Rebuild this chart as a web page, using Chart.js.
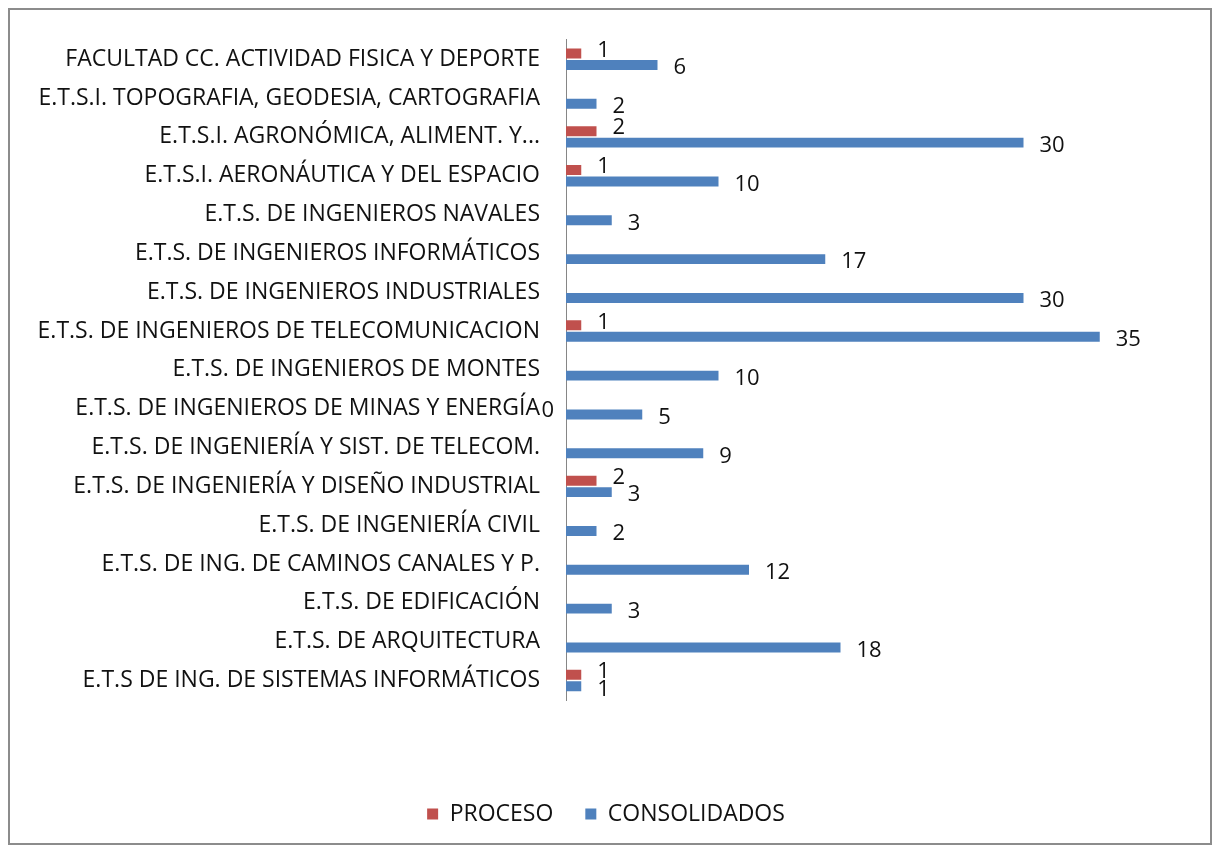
<!DOCTYPE html>
<html>
<head>
<meta charset="utf-8">
<script src="https://cdn.jsdelivr.net/npm/chart.js@4/dist/chart.umd.min.js"></script>
<style>
  body { margin: 0; background: #fff; }
  #frame { position: absolute; left: 8px; top: 8px; width: 1200px; height: 833px; border: 2px solid #8c8c8c; }
  #chart { position: absolute; left: 0; top: 0; }
</style>
</head>
<body>
<div id="frame"></div>
<canvas id="chart" width="1217" height="848"></canvas>
<script>
// categories, top to bottom as they appear
var schools = [
    "FACULTAD CC. ACTIVIDAD FISICA Y DEPORTE",
    "E.T.S.I. TOPOGRAFIA, GEODESIA, CARTOGRAFIA",
    "E.T.S.I. AGRONÓMICA, ALIMENT. Y...",
    "E.T.S.I. AERONÁUTICA Y DEL ESPACIO",
    "E.T.S. DE INGENIEROS NAVALES",
    "E.T.S. DE INGENIEROS INFORMÁTICOS",
    "E.T.S. DE INGENIEROS INDUSTRIALES",
    "E.T.S. DE INGENIEROS DE TELECOMUNICACION",
    "E.T.S. DE INGENIEROS DE MONTES",
    "E.T.S. DE INGENIEROS DE MINAS Y ENERGÍA",
    "E.T.S. DE INGENIERÍA Y SIST. DE TELECOM.",
    "E.T.S. DE INGENIERÍA Y DISEÑO INDUSTRIAL",
    "E.T.S. DE INGENIERÍA CIVIL",
    "E.T.S. DE ING. DE CAMINOS CANALES Y P.",
    "E.T.S. DE EDIFICACIÓN",
    "E.T.S. DE ARQUITECTURA",
    "E.T.S DE ING. DE SISTEMAS INFORMÁTICOS"
];
var proceso = [1, null, 2, 1, null, null, null, 1, null, 0, null, 2, null, null, null, null, 1];
var consolidados = [6, 2, 30, 10, 3, 17, 30, 35, 10, 5, 9, 3, 2, 12, 3, 18, 1];

var fontName = "'Open Sans'";

//Draws the value next to each bar, like the excel labels
var valueLabels = {
    id: 'valueLabels',
    afterDatasetsDraw: function(chart) {
        var ctx = chart.ctx;
        ctx.save();
        ctx.font = "22px " + fontName;
        ctx.fillStyle = "#111";
        ctx.textBaseline = "middle";
        chart.data.datasets.forEach(function(ds, i) {
            var meta = chart.getDatasetMeta(i);
            var dy = i == 0 ? -3 : 3;
            meta.data.forEach(function(bar, j) {
                var v = ds.data[j];
                if (v === null) return;
                if (v === 0) {
                    ctx.textAlign = "right";
                    ctx.fillText(v, bar.x - 12, bar.y + 8);
                } else {
                    ctx.textAlign = "left";
                    ctx.fillText(v, bar.x + 16, bar.y + dy);
                }
            });
        });
        ctx.restore();
    }
};

var chart = new Chart(document.getElementById("chart"), {
    type: 'bar',
    data: {
        labels: schools,
        datasets: [{
            label: "PROCESO",
            data: proceso,
            backgroundColor: "#C0504D",
            categoryPercentage: 0.59,
            barPercentage: 0.87
        }, {
            label: "CONSOLIDADOS",
            data: consolidados,
            backgroundColor: "#4F81BD",
            categoryPercentage: 0.59,
            barPercentage: 0.87
        }]
    },
    options: {
        indexAxis: 'y',
        responsive: false,
        animation: false,
        layout: {
            padding: { left: 36, right: 41, top: 35, bottom: 12.5 }
        },
        scales: {
            x: {
                display: false,
                min: 0,
                max: 40
            },
            y: {
                grid: { display: false, drawTicks: false },
                border: { display: true, color: "#868686", width: 1 },
                ticks: {
                    autoSkip: false,
                    padding: 26,
                    color: "#111",
                    font: { family: fontName, size: 23 }
                },
                afterFit: function(scale) {
                    scale.width = 530;
                }
            }
        },
        plugins: {
            legend: {
                position: "bottom",
                title: {
                    display: true,
                    text: " ",
                    font: { size: 70.5, lineHeight: 1 },
                    padding: 0
                },
                labels: {
                    boxWidth: 11,
                    boxHeight: 11,
                    padding: 32,
                    color: "#111",
                    font: { family: fontName, size: 23 }
                }
            },
            tooltip: { enabled: false }
        }
    },
    plugins: [valueLabels]
});
</script>
</body>
</html>
